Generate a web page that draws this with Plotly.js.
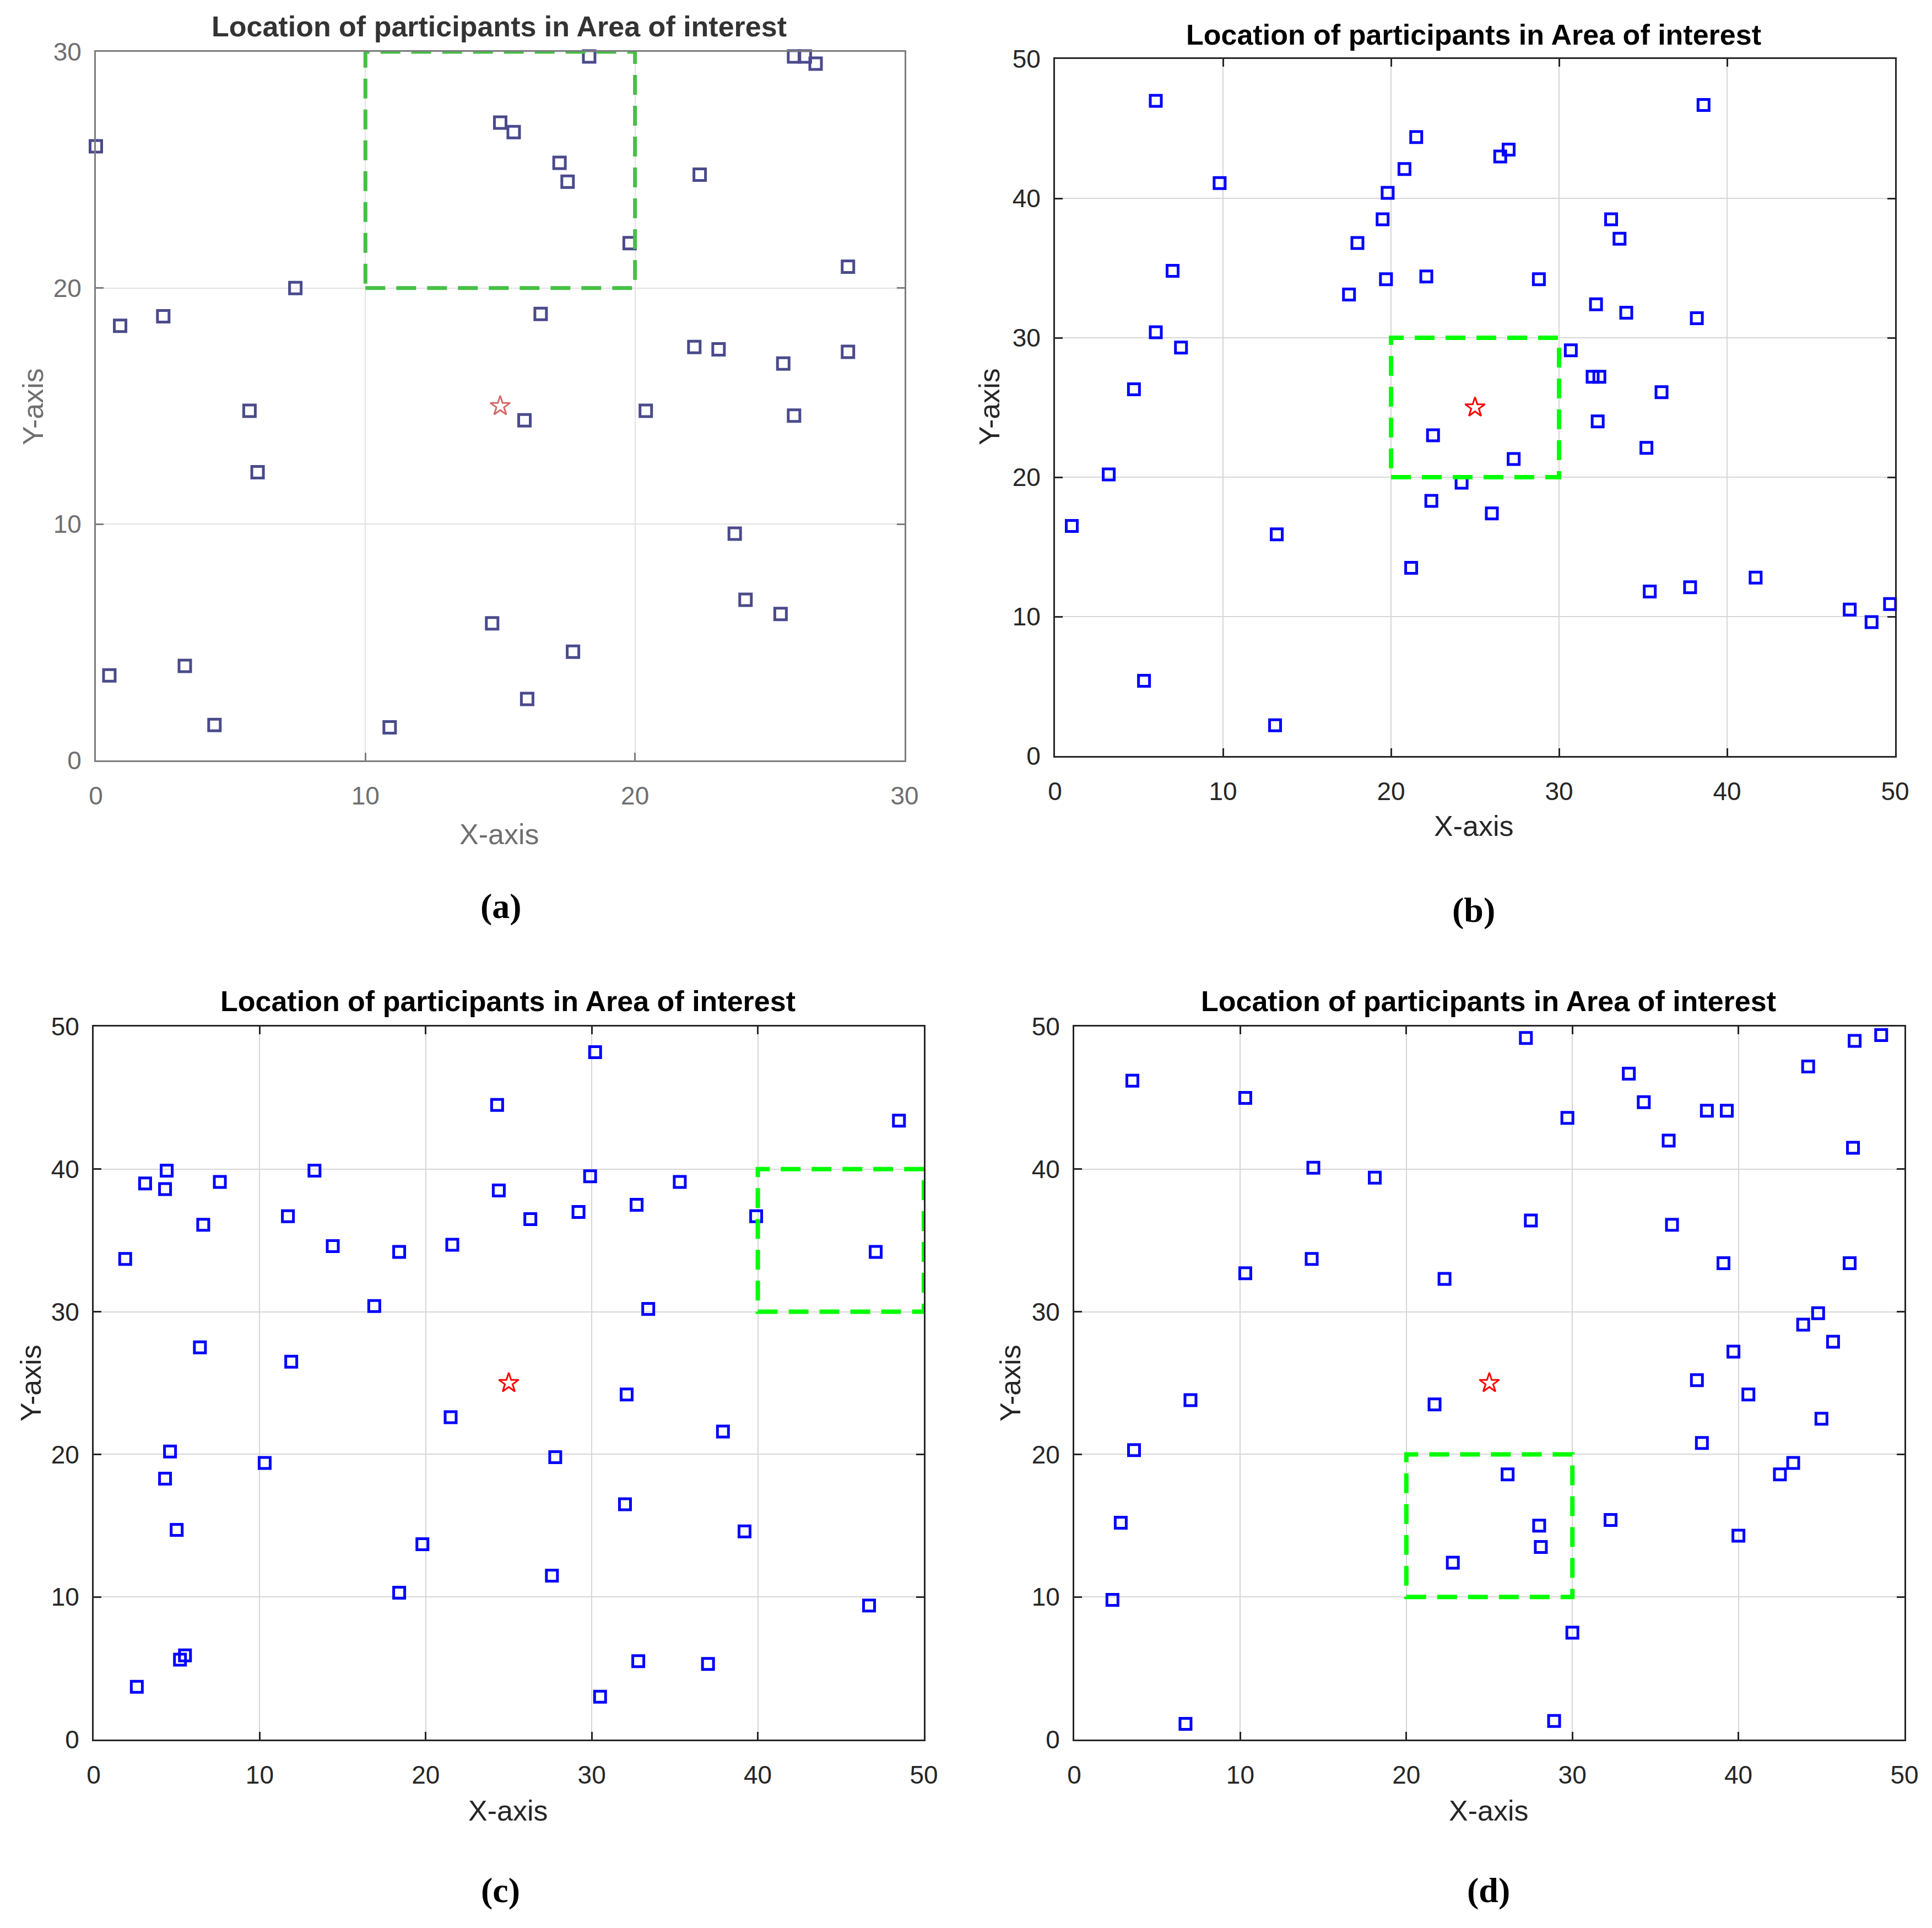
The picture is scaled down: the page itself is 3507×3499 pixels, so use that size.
<!DOCTYPE html>
<html>
<head>
<meta charset="utf-8">
<script src="https://cdn.plot.ly/plotly-3.0.1.min.js"></script>
<style>
  html, body { margin: 0; padding: 0; background: #fff; }
  #plot { width: 3507px; height: 3499px; }
</style>
</head>
<body>
<div id="plot"></div>
<script>
// DATA
var chartTitle = 'Location of participants in Area of interest';
var panelTags = ['(a)', '(b)', '(c)', '(d)'];
var tickStep = 10;

// (a) 30 x 30 area
var aMax = 30;
var aX = [0, 0.9, 2.5, 7.4, 5.7, 6.0, 0.5, 3.3, 4.4, 10.9, 14.7, 16.0, 17.7, 15.9, 16.5,
  15.0, 15.5, 17.2, 17.5, 18.3, 19.8, 20.4, 22.4, 22.2, 23.1, 23.7, 24.1, 25.4, 25.5,
  25.9, 25.9, 26.3, 26.7, 27.9, 27.9];
var aY = [26.0, 18.4, 18.8, 20.0, 14.8, 12.2, 3.6, 4.0, 1.5, 1.4, 5.8, 2.6, 4.6, 14.4, 18.9,
  27.0, 26.6, 25.3, 24.5, 29.8, 21.9, 14.8, 24.8, 17.5, 17.4, 9.6, 6.8, 6.2, 16.8,
  14.6, 29.8, 29.8, 29.5, 20.9, 17.3];
var aStar = [15, 15];
var aBox = [10, 20, 20, 30];

// (b) 50 x 50 area
var bMax = 50;
var bX = [6.0, 9.8, 7.0, 6.0, 7.5, 4.7, 3.2, 1.0, 13.2, 5.3, 13.1, 21.5, 20.8, 19.8, 19.5,
  18.0, 17.5, 19.7, 22.1, 26.5, 27.0, 28.8, 33.1, 33.6, 38.6, 32.2, 34.0, 38.2, 30.7,
  32.0, 32.4, 36.1, 32.3, 35.2, 22.5, 27.3, 24.2, 22.4, 26.0, 21.2, 35.4, 37.8, 41.7,
  47.3, 48.6, 49.7];
var bY = [47.0, 41.1, 34.8, 30.4, 29.3, 26.3, 20.2, 16.5, 15.9, 5.4, 2.2, 44.4, 42.1, 40.4, 38.5,
  36.8, 33.1, 34.2, 34.4, 43.0, 43.5, 34.2, 38.5, 37.1, 46.7, 32.4, 31.8, 31.4, 29.1,
  27.2, 27.2, 26.1, 24.0, 22.1, 23.0, 21.3, 19.6, 18.3, 17.4, 13.5, 11.8, 12.1, 12.8,
  10.5, 9.6, 10.9];
var bStar = [25, 25];
var bBox = [20, 30, 20, 30];

// (c) 50 x 50 area
var cMax = 50;
var cX = [1.9, 3.1, 4.4, 4.3, 7.6, 6.6, 6.4, 4.6, 4.3, 5.0, 5.2, 5.5, 2.6, 10.3, 11.7,
  11.9, 13.3, 14.4, 16.9, 18.4, 18.4, 19.8, 21.5, 21.6, 24.3, 24.4, 26.3, 29.2, 29.9,
  30.2, 27.8, 27.6, 30.5, 32.1, 32.0, 32.7, 33.4, 32.8, 35.3, 37.9, 37.0, 39.2, 39.9,
  47.1, 48.5, 46.7];
var cY = [33.7, 39.0, 39.9, 38.6, 39.1, 36.1, 27.5, 20.2, 18.3, 14.7, 5.6, 5.9, 3.7, 19.4, 36.7,
  26.5, 39.9, 34.6, 30.4, 34.2, 10.3, 13.7, 22.6, 34.7, 44.5, 38.5, 36.5, 37.0, 39.5,
  48.2, 19.8, 11.5, 3.0, 24.2, 16.5, 37.5, 30.2, 5.5, 39.1, 21.6, 5.3, 14.6, 36.7,
  34.2, 43.4, 9.4];
var cStar = [25, 25];
var cBox = [40, 50, 30, 40];

// (d) 50 x 50 area
var dMax = 50;
var dX = [3.5, 10.3, 14.4, 18.1, 10.3, 14.3, 22.3, 7.0, 3.6, 2.8, 2.3, 6.7, 27.2, 29.7, 27.5,
  21.7, 26.1, 28.0, 28.1, 22.8, 30.0, 28.9, 32.3, 33.4, 34.3, 35.8, 36.0, 38.1, 39.3,
  39.1, 37.5, 39.7, 37.8, 40.6, 40.0, 42.5, 43.3, 43.9, 44.8, 45.7, 45.0, 44.2, 47.0,
  48.6, 46.9, 46.7];
var dY = [46.2, 45.0, 40.1, 39.4, 32.7, 33.7, 32.3, 23.8, 20.3, 15.2, 9.8, 1.1, 49.2, 43.6, 36.4,
  23.5, 18.6, 15.0, 13.5, 12.4, 7.5, 1.3, 15.4, 46.7, 44.7, 42.0, 36.1, 44.1, 44.1,
  33.4, 25.2, 27.2, 20.8, 24.2, 14.3, 18.6, 19.4, 29.1, 29.9, 27.9, 22.5, 47.2, 49.0,
  49.4, 41.5, 33.4];
var dStar = [25, 25];
var dBox = [20, 30, 10, 20];

// LAYOUT SETTINGS
var W = 3507, H = 3499;
var sans = 'Liberation Sans, Arial, Helvetica, sans-serif';
var serif = 'Liberation Serif, Times New Roman, serif';

// pixel frame of each axes box: left, right, top, bottom
var frames = [
  {l: 174, r: 1642, t: 94, b: 1380},
  {l: 1915, r: 3440, t: 107, b: 1372},
  {l: 170, r: 1677, t: 1863, b: 3157},
  {l: 1950, r: 3457, t: 1863, b: 3157}
];

// pixel centres of the texts of each panel
var textPos = [
  {title: [906, 48], xlab: [906, 1514], ylab: [60, 738], tag: [910, 1644]},
  {title: [2675, 63], xlab: [2675, 1499], ylab: [1796, 738], tag: [2675, 1651]},
  {title: [922, 1817], xlab: [922, 3286], ylab: [56, 2510], tag: [908, 3430]},
  {title: [2702, 1817], xlab: [2702, 3286], ylab: [1834, 2510], tag: [2702, 3430]}
];

// panel (a) is a faded screenshot, the others are crisp
var faded = {ink: '#7d7d7d', title: '#333333', label: '#6f6f6f', marker: '#4a4a8c',
  box: '#44c044', star: '#d46a6a', grid: '#e2e2e2', msize: 21, mline: 5, boxw: 7};
var crisp = {ink: '#262626', title: '#000000', label: '#262626', marker: '#0000ff',
  box: '#00ff00', star: '#ff0000', grid: '#d6d6d6', msize: 20, mline: 5, boxw: 8};

var panels = [
  {x: aX, y: aY, star: aStar, box: aBox, max: aMax, style: faded},
  {x: bX, y: bY, star: bStar, box: bBox, max: bMax, style: crisp},
  {x: cX, y: cY, star: cStar, box: cBox, max: cMax, style: crisp},
  {x: dX, y: dY, star: dStar, box: dBox, max: dMax, style: crisp}
];

// BUILD FIGURE
var traces = [];
var shapes = [];
var annotations = [];
var layout = {
  width: W,
  height: H,
  margin: {l: 0, r: 0, t: 0, b: 0},
  paper_bgcolor: '#ffffff',
  plot_bgcolor: '#ffffff',
  showlegend: false
};

function px(x) { return x / W; }
function py(y) { return 1 - y / H; }

function makeAxis(domain, max, anchor, st, isX) {
  return {
    domain: domain,
    range: [0, max],
    anchor: anchor,
    tick0: 0,
    dtick: tickStep,
    showgrid: true,
    gridcolor: st.grid,
    gridwidth: 2,
    zeroline: false,
    showline: true,
    linecolor: st.ink,
    linewidth: 3,
    mirror: 'ticks',
    ticks: 'inside',
    ticklen: 14,
    tickwidth: 3,
    tickcolor: st.ink,
    ticklabelstandoff: isX ? 22 : 14,
    tickfont: {family: sans, size: 46, color: st.label},
    fixedrange: true
  };
}

function addText(text, pos, font, angle) {
  annotations.push({
    text: text,
    xref: 'paper',
    yref: 'paper',
    x: px(pos[0]),
    y: py(pos[1]),
    xanchor: 'center',
    yanchor: 'middle',
    showarrow: false,
    textangle: angle || 0,
    font: font
  });
}

panels.forEach(function(p, i) {
  var n = i === 0 ? '' : String(i + 1);
  var fr = frames[i];
  var st = p.style;
  var tp = textPos[i];

  layout['xaxis' + n] = makeAxis([px(fr.l), px(fr.r)], p.max, 'y' + n, st, true);
  layout['yaxis' + n] = makeAxis([py(fr.b), py(fr.t)], p.max, 'x' + n, st, false);

  // participants
  traces.push({
    type: 'scatter',
    mode: 'markers',
    x: p.x,
    y: p.y,
    xaxis: 'x' + n,
    yaxis: 'y' + n,
    cliponaxis: false,
    marker: {symbol: 'square-open', size: st.msize, color: st.marker, line: {width: st.mline}},
    hoverinfo: 'skip'
  });

  // centre point
  traces.push({
    type: 'scatter',
    mode: 'markers',
    x: [p.star[0]],
    y: [p.star[1]],
    xaxis: 'x' + n,
    yaxis: 'y' + n,
    cliponaxis: false,
    marker: {symbol: 'star-open', size: 27, color: st.star, line: {width: 3}},
    hoverinfo: 'skip'
  });

  // area of interest
  shapes.push({
    type: 'rect',
    xref: 'x' + n,
    yref: 'y' + n,
    x0: p.box[0],
    x1: p.box[1],
    y0: p.box[2],
    y1: p.box[3],
    line: {color: st.box, width: st.boxw, dash: '36px,20px'},
    layer: 'above'
  });

  addText('<b>' + chartTitle + '</b>', tp.title, {family: sans, size: 52, color: st.title});
  addText('X-axis', tp.xlab, {family: sans, size: 52, color: st.label});
  addText('Y-axis', tp.ylab, {family: sans, size: 52, color: st.label}, -90);
  addText('<b>' + panelTags[i] + '</b>', tp.tag, {family: serif, size: 64, color: '#000000'});
});

layout.shapes = shapes;
layout.annotations = annotations;

Plotly.newPlot('plot', traces, layout, {staticPlot: true});
</script>
</body>
</html>
